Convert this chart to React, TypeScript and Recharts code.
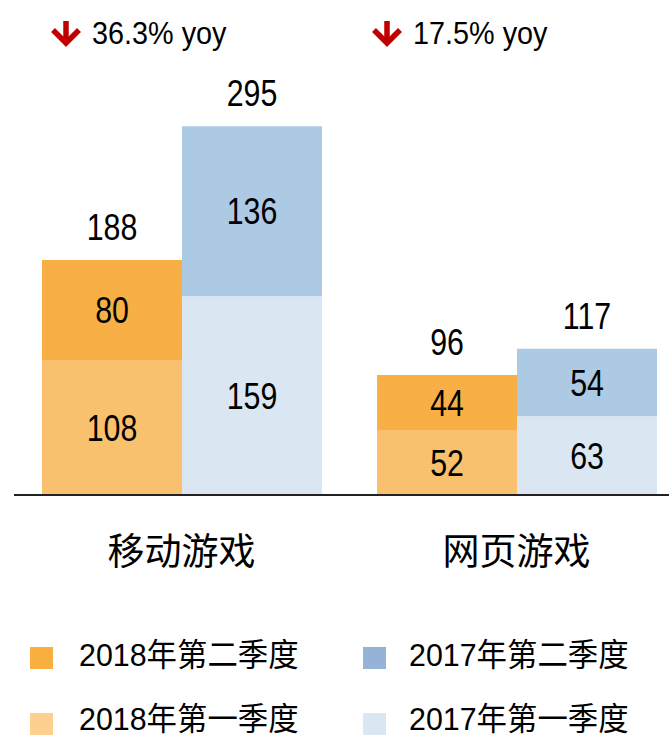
import React from 'react';
import { BarChart, Bar, XAxis, YAxis, LabelList } from 'recharts';

// ---- data ----
const categories = ['移动游戏', '网页游戏'];
const q1_2018 = [108, 52];
const q2_2018 = [80, 44];
const q1_2017 = [159, 63];
const q2_2017 = [136, 54];
const yoyLabels = ['36.3% yoy', '17.5% yoy'];
const seriesNames = {
  q2_2018: '2018年第二季度',
  q2_2017: '2017年第二季度',
  q1_2018: '2018年第一季度',
  q1_2017: '2017年第一季度',
};

// ---- styles ----
const barColors = {
  q2_2018: '#F8AF45',
  q1_2018: '#F9C16D',
  q2_2017: '#ADCAE4',
  q1_2017: '#DAE6F2',
};
const legendColors = {
  q2_2018: '#F9B041',
  q1_2018: '#FDD08F',
  q2_2017: '#95B3D7',
  q1_2017: '#DBE6F3',
};
const latin = "'Liberation Sans', Arial, 'Noto Sans CJK SC', sans-serif";
const cjk = "'Noto Sans CJK SC', 'Liberation Sans', sans-serif";

const data = categories.map((cat, i) => ({
  cat,
  q1_2018: q1_2018[i],
  q2_2018: q2_2018[i],
  q1_2017: q1_2017[i],
  q2_2017: q2_2017[i],
  total2018: q1_2018[i] + q2_2018[i],
  total2017: q1_2017[i] + q2_2017[i],
}));

const SegLabel = (props: any) => {
  const { x, y, width, height, value } = props;
  const cx = Number(x) + Number(width) / 2;
  const cy = Number(y) + Number(height) / 2 + 13;
  return (
    <text
      transform={`translate(${cx},${cy}) scale(0.82,1)`}
      textAnchor="middle"
      fontSize={37}
      fontFamily={latin}
      fill="#000"
    >
      {value}
    </text>
  );
};

const TotalLabel = (props: any) => {
  const { x, y, width, value } = props;
  const cx = Number(x) + Number(width) / 2;
  const cy = Number(y) - 20;
  return (
    <text
      transform={`translate(${cx},${cy}) scale(0.82,1)`}
      textAnchor="middle"
      fontSize={37}
      fontFamily={latin}
      fill="#000"
    >
      {value}
    </text>
  );
};

const arrowLeft = [52, 373];
const yoyTextX = [92, 413];

const YoyLabel = (props: any) => {
  const { index } = props;
  const ax = arrowLeft[index];
  const cx = ax + 14;
  return (
    <g>
      <path d={`M${cx},21 V42`} stroke="#C00000" strokeWidth={5.5} fill="none" />
      <path
        d={`M${ax + 1},30 L${cx},43 L${ax + 27},30`}
        stroke="#C00000"
        strokeWidth={5.5}
        fill="none"
        strokeLinejoin="miter"
      />
      <text
        transform={`translate(${yoyTextX[index]},44) scale(0.9,1)`}
        textAnchor="start"
        fontSize={32}
        fontFamily={latin}
        fill="#000"
      >
        {yoyLabels[index]}
      </text>
    </g>
  );
};

const CatTick = (props: any) => {
  const { x, payload } = props;
  return (
    <text x={x} y={565} textAnchor="middle" fontSize={37} fontFamily={cjk} fill="#000">
      {payload.value}
    </text>
  );
};

const legendItems: { key: keyof typeof seriesNames; col: number; row: number }[] = [
  { key: 'q2_2018', col: 0, row: 0 },
  { key: 'q2_2017', col: 1, row: 0 },
  { key: 'q1_2018', col: 0, row: 1 },
  { key: 'q1_2017', col: 1, row: 1 },
];
const legendSwatchX = [30, 363];
const legendTextX = [79, 409];
const legendSwatchY = [647, 713];
const legendBaseline = [666, 730];

export default function App() {
  return (
    <div
      style={{
        position: 'absolute',
        left: 0,
        top: 0,
        width: 669,
        height: 736,
        overflow: 'hidden',
        background: '#fff',
      }}
    >
      <BarChart
        width={684}
        height={736}
        data={data}
        margin={{ top: 70, right: 0, left: 14, bottom: 181 }}
        barCategoryGap={28}
        barGap={0}
      >
        <XAxis
          dataKey="cat"
          axisLine={{ stroke: '#222', strokeWidth: 2 }}
          tickLine={false}
          height={60}
          interval={0}
          tick={<CatTick />}
        />
        <YAxis hide domain={[0, 340]} />
        <Bar dataKey="q1_2018" stackId="a" fill={barColors.q1_2018} isAnimationActive={false}>
          <LabelList dataKey="q1_2018" content={<SegLabel />} />
        </Bar>
        <Bar dataKey="q2_2018" stackId="a" fill={barColors.q2_2018} isAnimationActive={false}>
          <LabelList dataKey="q2_2018" content={<SegLabel />} />
          <LabelList dataKey="total2018" content={<TotalLabel />} />
          <LabelList dataKey="cat" content={<YoyLabel />} />
        </Bar>
        <Bar dataKey="q1_2017" stackId="b" fill={barColors.q1_2017} isAnimationActive={false}>
          <LabelList dataKey="q1_2017" content={<SegLabel />} />
        </Bar>
        <Bar dataKey="q2_2017" stackId="b" fill={barColors.q2_2017} isAnimationActive={false}>
          <LabelList dataKey="q2_2017" content={<SegLabel />} />
          <LabelList dataKey="total2017" content={<TotalLabel />} />
        </Bar>
      </BarChart>
      <svg
        width={669}
        height={736}
        style={{ position: 'absolute', left: 0, top: 0, pointerEvents: 'none' }}
      >
        {legendItems.map((it) => (
          <g key={it.key}>
            <rect
              x={legendSwatchX[it.col]}
              y={legendSwatchY[it.row]}
              width={23}
              height={22}
              fill={legendColors[it.key]}
            />
            <text
              transform={`translate(${legendTextX[it.col]},${legendBaseline[it.row]}) scale(0.95,1)`}
              fontSize={32}
              fontFamily={latin}
              fill="#000"
            >
              {seriesNames[it.key]}
            </text>
          </g>
        ))}
      </svg>
    </div>
  );
}
